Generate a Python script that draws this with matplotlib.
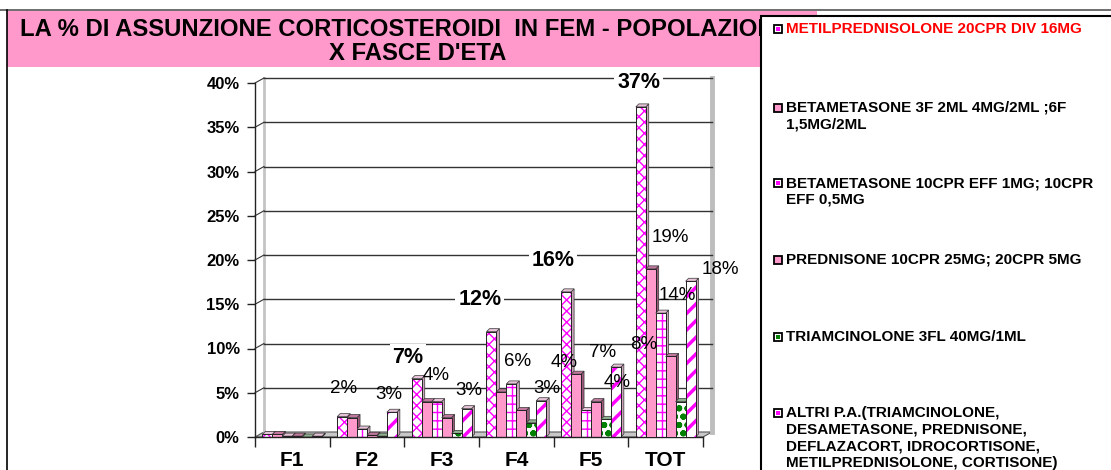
import matplotlib.pyplot as plt
import numpy as np
from matplotlib.patches import Polygon, Rectangle
from matplotlib.lines import Line2D

plt.rcParams['font.family'] = ['Liberation Sans', 'DejaVu Sans']
plt.rcParams['hatch.linewidth'] = 1.0

# ---------------- data ----------------
categories = ["F1", "F2", "F3", "F4", "F5", "TOT"]
series_names = [
    "METILPREDNISOLONE 20CPR DIV 16MG",
    "BETAMETASONE 3F 2ML 4MG/2ML ;6F\n1,5MG/2ML",
    "BETAMETASONE 10CPR EFF 1MG; 10CPR\nEFF 0,5MG",
    "PREDNISONE 10CPR 25MG; 20CPR 5MG",
    "TRIAMCINOLONE 3FL 40MG/1ML",
    "ALTRI P.A.(TRIAMCINOLONE,\nDESAMETASONE, PREDNISONE,\nDEFLAZACORT, IDROCORTISONE,\nMETILPREDNISOLONE, CORTISONE)",
]
metilprednisolone = [0.3, 2.3, 6.6, 11.9, 16.4, 37.3]
betametasone_3f = [0.3, 2.2, 4.0, 5.1, 7.1, 19.0]
betametasone_10cpr = [0.1, 0.9, 4.0, 6.0, 3.0, 14.0]
prednisone = [0.1, 0.2, 2.2, 3.0, 4.0, 9.1]
triamcinolone = [0.0, 0.1, 0.4, 1.6, 2.0, 4.0]
altri = [0.1, 2.8, 3.2, 4.1, 7.9, 17.6]
series = [metilprednisolone, betametasone_3f, betametasone_10cpr,
          prednisone, triamcinolone, altri]

# data labels as they sit in the original (text, category pos, y value, big bold)
labels_layout = [
    ("2%", 0.68, 5.5, False), ("3%", 1.29, 4.75, False),
    ("7%", 1.55, 9.0, True), ("4%", 1.93, 7.0, False), ("3%", 2.36, 5.3, False),
    ("12%", 2.51, 15.5, True), ("6%", 3.01, 8.5, False), ("3%", 3.41, 5.5, False),
    ("16%", 3.49, 20.0, True), ("4%", 3.64, 8.4, False), ("7%", 4.16, 9.5, False),
    ("4%", 4.35, 6.2, False),
    ("37%", 4.64, 40.0, True), ("19%", 5.06, 22.5, False), ("8%", 4.70, 10.4, False),
    ("14%", 5.15, 16.0, False), ("18%", 5.73, 18.9, False),
]

# ---------------- styles ----------------
PINK = "#FF99CC"
MAG = "#FF00FF"
styles = [
    dict(face="white", hatch="xxx", hcol=MAG, top="#E6C3D8", side="#C9A3BA", hlw=1.0),
    dict(face=PINK, hatch=None, hcol=None, top="#C2789E", side="#9E5A7C", hlw=1.0),
    dict(face="white", hatch="++", hcol=MAG, top="#E6C3D8", side="#C9A3BA", hlw=1.0),
    dict(face=PINK, hatch=None, hcol=None, top="#C2789E", side="#9E5A7C", hlw=1.0),
    dict(face="white", hatch="oo", hcol="#008000", top="#8FB08F", side="#6E906E", hlw=2.0),
    dict(face="white", hatch="//", hcol=MAG, top="#E6C3D8", side="#C9A3BA", hlw=2.5),
]

W, H = 1111, 470
fig = plt.figure(figsize=(W / 100, H / 100), dpi=100)
fig.patch.set_facecolor("white")


def fx(px):
    return px / W


def fy(py):
    return 1 - py / H


# ---------------- header / frame ----------------
fig.add_artist(Rectangle((fx(7), fy(67)), fx(817 - 7), (67 - 11) / H,
                         transform=fig.transFigure, facecolor="#FF99CC",
                         edgecolor="none", zorder=1))
fig.add_artist(Line2D([fx(0), fx(1111)], [fy(10), fy(10)], transform=fig.transFigure,
                      color="#555555", lw=1.2, zorder=6))
fig.add_artist(Line2D([fx(7), fx(7)], [fy(10), fy(470)], transform=fig.transFigure,
                      color="black", lw=1.2, zorder=6))
fig.text(fx(20), fy(30), "LA % DI ASSUNZIONE CORTICOSTEROIDI  IN FEM - POPOLAZIONE",
         ha="left", va="center", fontsize=17.2, fontweight="bold", zorder=2)
fig.text(fx(418), fy(53), "X FASCE D'ETA", ha="center", va="center",
         fontsize=17.2, fontweight="bold", zorder=2)

# ---------------- legend ----------------
fig.add_artist(Rectangle((fx(761), fy(480)), fx(400), (480 - 16) / H,
                         transform=fig.transFigure, facecolor="white",
                         edgecolor="black", lw=1.5, zorder=5))
legend_rows = [29, 108, 183, 260, 337, 413]
for i, (name, st) in enumerate(zip(series_names, styles)):
    yc = legend_rows[i]
    sq = Rectangle((fx(774), fy(yc + 4)), fx(8), 8 / H, transform=fig.transFigure,
                   facecolor=st["face"] if st["hatch"] is None else "white",
                   edgecolor="black", lw=1.3, zorder=7)
    fig.add_artist(sq)
    if st["hatch"] is not None:
        fig.add_artist(Rectangle((fx(776), fy(yc + 2)), fx(4), 4 / H,
                                 transform=fig.transFigure, facecolor=st["hcol"],
                                 edgecolor="none", zorder=7))
    for j, line in enumerate(name.split("\n")):
        fig.text(fx(786), fy(yc + j * 16.7), line, ha="left", va="center",
                 fontsize=11, fontweight="bold",
                 color="#FF0000" if i == 0 else "black", zorder=7)

# ---------------- chart ----------------
ax = fig.add_axes([fx(255), (470 - 437) / H, 448 / W, 354 / H])
ax.set_xlim(-0.5, 5.5)
ax.set_ylim(0, 40)
ax.patch.set_alpha(0)
for s in ["top", "right"]:
    ax.spines[s].set_visible(False)
ax.spines["left"].set_color("#222222")
ax.spines["bottom"].set_color("#222222")
ax.spines["left"].set_linewidth(1)
ax.spines["bottom"].set_linewidth(1)

# pixel -> data sizes
o = ax.transData.transform((0, 0))
p = ax.transData.transform((1, 1))
ux, uy = p[0] - o[0], p[1] - o[1]
wdx, wdy = 9 / ux, 5 / uy      # wall depth
bdx, bdy = 3 / ux, 3 / uy      # bar depth

yt = np.arange(0, 41, 5)
ax.set_yticks(yt)
ax.set_yticklabels([f"{v}%" for v in yt], fontsize=12, fontweight="bold")
ax.tick_params(axis="y", length=6, width=1, color="#222222", pad=5)
ax.set_xticks(range(len(categories)))
ax.set_xticklabels(categories, fontsize=15, fontweight="bold")
ax.tick_params(axis="x", which="major", length=0, pad=10)
ax.set_xticks(np.arange(-0.5, len(categories), 1), minor=True)
ax.tick_params(axis="x", which="minor", length=7, width=1, color="#222222")

# floor and walls
ax.add_patch(Polygon([(-0.5, 0), (5.5, 0), (5.5 + wdx, wdy), (-0.5 + wdx, wdy)],
                     closed=True, facecolor="#C8C8C8", edgecolor="#555555",
                     lw=0.8, zorder=1, clip_on=False))
ax.plot([-0.5 + wdx, -0.5 + wdx], [wdy, 40 + wdy], color="#C4C4C4", lw=2,
        zorder=1, clip_on=False)
ax.plot([5.5 + wdx, 5.5 + wdx], [wdy, 40 + wdy], color="#BDBDBD", lw=3.5,
        zorder=1, clip_on=False)
for v in yt[1:]:
    ax.plot([-0.5 + wdx, 5.5 + wdx], [v + wdy, v + wdy], color="#333333", lw=1,
            zorder=1.2, clip_on=False)
    ax.plot([-0.5, -0.5 + wdx], [v, v + wdy], color="#333333", lw=0.8,
            zorder=1.2, clip_on=False)

# 3D-looking bars
nser = len(series)
w = 0.8 / nser
for c in range(len(categories)):
    for s in range(nser):
        h = series[s][c]
        st = styles[s]
        xc = c + (s - (nser - 1) / 2) * w
        x0 = xc - w / 2
        z = 2 + c * 0.1 + s * 0.01
        side = Polygon([(x0 + w, 0), (x0 + w + bdx, bdy), (x0 + w + bdx, h + bdy), (x0 + w, h)],
                       closed=True, facecolor=st["side"], edgecolor="#333333", lw=0.5, zorder=z)
        top = Polygon([(x0, h), (x0 + w, h), (x0 + w + bdx, h + bdy), (x0 + bdx, h + bdy)],
                      closed=True, facecolor=st["top"], edgecolor="#333333", lw=0.5, zorder=z)
        ax.add_patch(side)
        ax.add_patch(top)
        if st["hatch"] is None:
            ax.bar(xc, h, width=w, color=st["face"], edgecolor="#222222", lw=0.7, zorder=z)
        else:
            b = ax.bar(xc, h, width=w, color=st["face"], edgecolor=st["hcol"],
                       hatch=st["hatch"], lw=0, zorder=z)
            for r in b:
                try:
                    r.set_hatch_linewidth(st["hlw"])
                except AttributeError:
                    pass
            ax.bar(xc, h, width=w, fill=False, edgecolor="#222222", lw=0.7, zorder=z)

# data labels
for text, xp, yp, big in labels_layout:
    if big:
        ax.text(xp, yp, text, ha="center", va="center", fontsize=15.5, fontweight="bold",
                zorder=10, clip_on=False,
                bbox=dict(facecolor="white", edgecolor="none", pad=2))
    else:
        ax.text(xp, yp, text, ha="center", va="center", fontsize=13.5,
                zorder=10, clip_on=False)

fig.savefig("out.png", dpi=100)
